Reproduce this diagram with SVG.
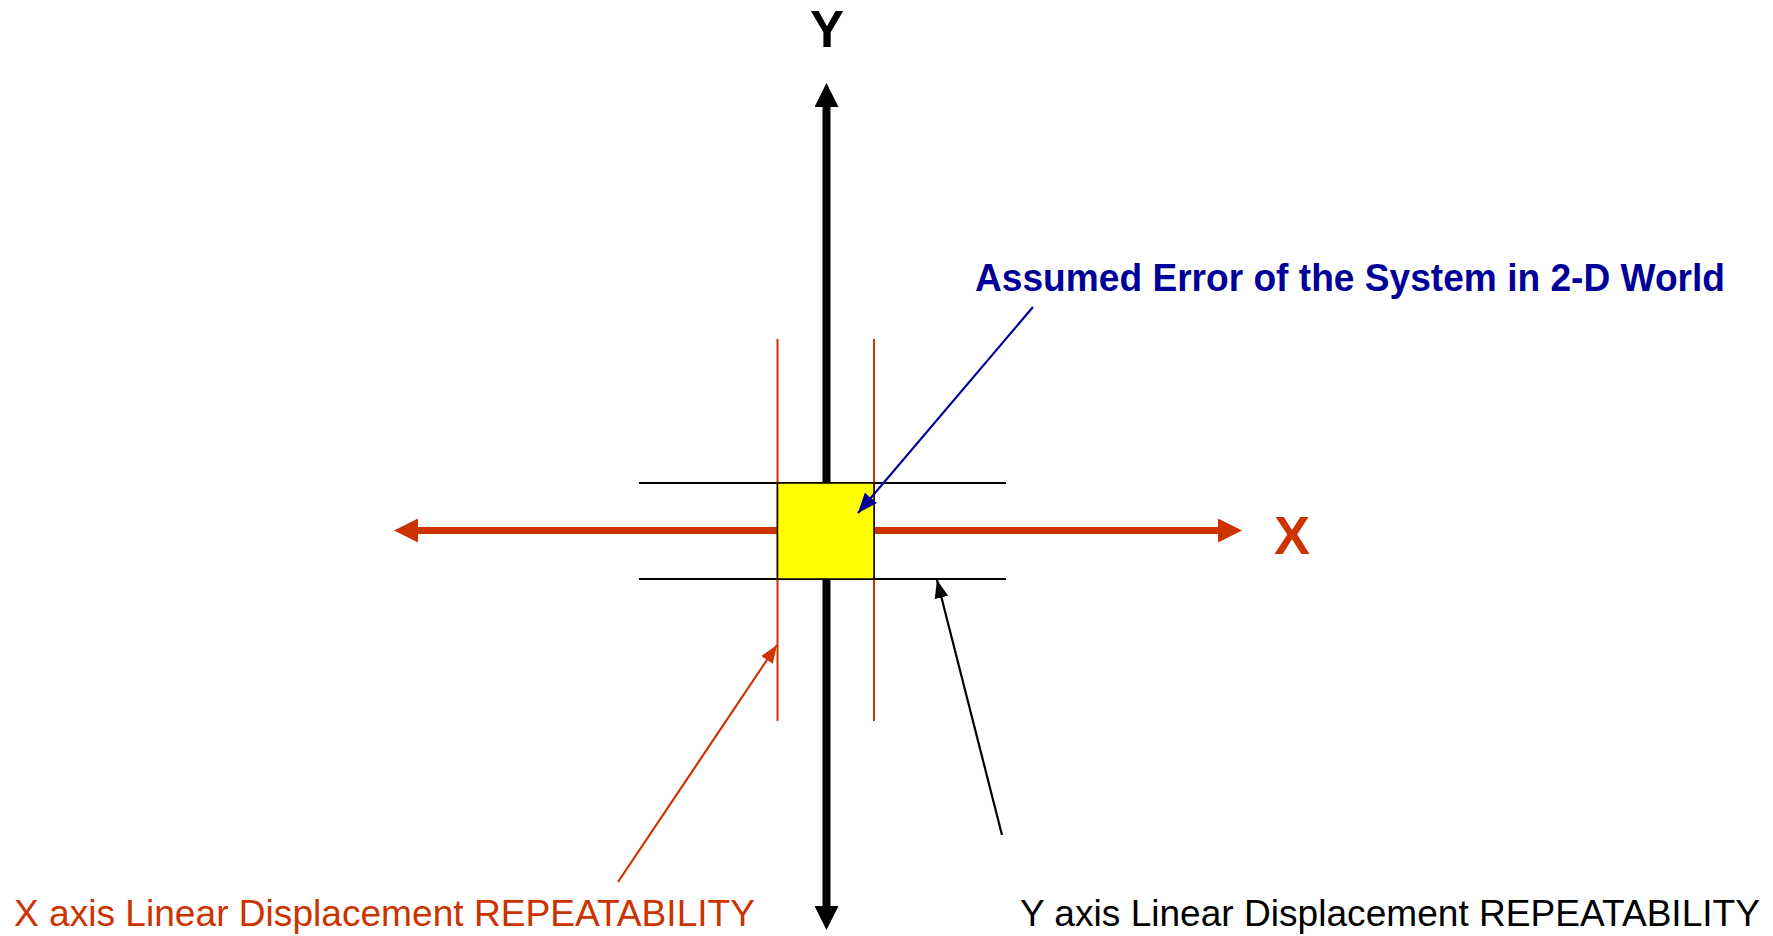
<svg xmlns="http://www.w3.org/2000/svg" width="1773" height="936" viewBox="0 0 1773 936">
<style>
.lbl{font-family:"Liberation Sans",Arial,sans-serif}
.bold{font-weight:bold}
.red{fill:#CC3300}
.blue{fill:#000099}
.blk{fill:#000}
</style>
<defs>
<marker id="axB" markerUnits="userSpaceOnUse" markerWidth="24" markerHeight="24" viewBox="0 0 24 24" refX="0" refY="12" orient="auto-start-reverse"><path d="M0,0 L24,12 L0,24 z" fill="#000"/></marker>
<marker id="axR" markerUnits="userSpaceOnUse" markerWidth="24" markerHeight="24" viewBox="0 0 24 24" refX="0" refY="12" orient="auto-start-reverse"><path d="M0,0 L24,12 L0,24 z" fill="#CC3300"/></marker>
<marker id="smBlue" markerUnits="userSpaceOnUse" markerWidth="20" markerHeight="16" viewBox="0 0 20 16" refX="20" refY="8" orient="auto"><path d="M0,0 L20,8 L0,16 z" fill="#000099"/></marker>
<marker id="smRed" markerUnits="userSpaceOnUse" markerWidth="18" markerHeight="14" viewBox="0 0 18 14" refX="18" refY="7" orient="auto"><path d="M0,0 L18,7 L0,14 z" fill="#CC3300"/></marker>
<marker id="smBlk" markerUnits="userSpaceOnUse" markerWidth="18" markerHeight="14" viewBox="0 0 18 14" refX="18" refY="7" orient="auto"><path d="M0,0 L18,7 L0,14 z" fill="#000"/></marker>
</defs>
<rect width="1773" height="936" fill="#fff"/>
<g id="repeatability-lines">
<line x1="639" y1="483" x2="1006" y2="483" stroke="#000" stroke-width="2"/>
<line x1="639" y1="579" x2="1006" y2="579" stroke="#000" stroke-width="2"/>
<line x1="777.5" y1="339" x2="777.5" y2="721" stroke="#CC3300" stroke-width="2"/>
<line x1="874" y1="339" x2="874" y2="721" stroke="#CC3300" stroke-width="2"/>
</g>
<g id="y-axis">
<line x1="826.5" y1="107" x2="826.5" y2="906" stroke="#000" stroke-width="8" marker-start="url(#axB)" marker-end="url(#axB)"/>
<text class="lbl bold blk" x="827" y="47" font-size="51" text-anchor="middle">Y</text>
</g>
<g id="x-axis">
<line x1="418" y1="530.5" x2="1218" y2="530.5" stroke="#CC3300" stroke-width="7" marker-start="url(#axR)" marker-end="url(#axR)"/>
<text class="lbl bold red" x="1274" y="554" font-size="54">X</text>
</g>
<g id="error-square">
<rect x="777.5" y="483" width="96.5" height="96" fill="#FFFF00" stroke="#000" stroke-width="1.5"/>
</g>
<g id="connectors">
<line x1="1033" y1="307" x2="858" y2="513" stroke="#000099" stroke-width="2.2" marker-end="url(#smBlue)"/>
<line x1="618" y1="882" x2="777" y2="645" stroke="#CC3300" stroke-width="2.2" marker-end="url(#smRed)"/>
<line x1="1002" y1="835" x2="937" y2="580" stroke="#000" stroke-width="2.2" marker-end="url(#smBlk)"/>
</g>
<g id="label-error">
<text class="lbl bold blue" x="975" y="291" font-size="38" textLength="750" lengthAdjust="spacingAndGlyphs">Assumed Error of the System in 2-D World</text>
</g>
<g id="label-x-repeat">
<text class="lbl red" x="14" y="926" font-size="37" textLength="741" lengthAdjust="spacingAndGlyphs">X axis Linear Displacement REPEATABILITY</text>
</g>
<g id="label-y-repeat">
<text class="lbl blk" x="1020" y="926" font-size="37" textLength="740" lengthAdjust="spacingAndGlyphs">Y axis Linear Displacement REPEATABILITY</text>
</g>
</svg>
